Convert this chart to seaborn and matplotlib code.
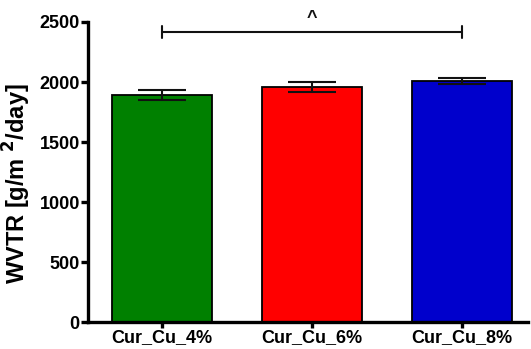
import matplotlib
matplotlib.use("Agg")
import matplotlib.pyplot as plt
import seaborn as sns
import pandas as pd

# Water vapour transmission rate per film formulation
groups = ["Cur_Cu_4%", "Cur_Cu_6%", "Cur_Cu_8%"]
wvtr_mean = [1893, 1961, 2008]
wvtr_sd = [41, 42, 24]
bar_colors = ["#008000", "#FF0000", "#0000CC"]
yticks = [0, 500, 1000, 1500, 2000, 2500]
bracket_level = 2415
bracket_label = "^"

sns.set_theme(style="white")
plt.rcParams["font.family"] = ["Liberation Sans", "DejaVu Sans"]
plt.rcParams["font.weight"] = "bold"
plt.rcParams["mathtext.default"] = "bf"
plt.rcParams["text.color"] = "black"

df = pd.DataFrame({"group": groups, "wvtr": wvtr_mean})

fig = plt.figure(figsize=(5.31, 3.49), dpi=100)
ax = fig.add_axes([0.166, 0.077, 0.828, 0.86])

sns.barplot(data=df, x="group", y="wvtr", hue="group", palette=bar_colors,
            order=groups, hue_order=groups, legend=False, errorbar=None,
            width=0.667, edgecolor="black", linewidth=1.3, ax=ax, saturation=1)

ax.errorbar(range(len(groups)), wvtr_mean, yerr=wvtr_sd, fmt="none",
            ecolor="#111111", elinewidth=1.5, capsize=17, capthick=1.5, zorder=5)

# significance bracket between first and last group
ax.plot([0, 2], [bracket_level, bracket_level], color="#111111", lw=1.5, clip_on=False)
for xb in (0, 2):
    ax.plot([xb, xb], [bracket_level - 50, bracket_level + 50], color="#111111",
            lw=1.5, clip_on=False)
ax.text(1, bracket_level + 45, bracket_label, ha="center", va="bottom",
        fontsize=13, fontweight="bold", color="#111111", clip_on=False)

ax.set_xlim(-0.49, 2.44)
ax.set_ylim(0, 2500)
ax.set_yticks(yticks)
ax.set_yticklabels([str(t) for t in yticks])
ax.set_xlabel("")
ax.set_ylabel("WVTR [g/m $^{2}$/day]", fontsize=17, fontweight="bold", color="black")
ax.yaxis.set_label_coords(-0.125, 0.46)

for side in ("top", "right"):
    ax.spines[side].set_visible(False)
for side in ("left", "bottom"):
    ax.spines[side].set_linewidth(2.4)
    ax.spines[side].set_color("black")

ax.tick_params(axis="y", direction="out", length=5, width=2.4, colors="black",
               labelsize=13, pad=1, left=True)
ax.tick_params(axis="x", direction="out", length=4, width=2.4, colors="black",
               labelsize=13, pad=1, bottom=True)
for lab in ax.get_xticklabels() + ax.get_yticklabels():
    lab.set_fontweight("bold")

fig.savefig("out.png", dpi=100)
